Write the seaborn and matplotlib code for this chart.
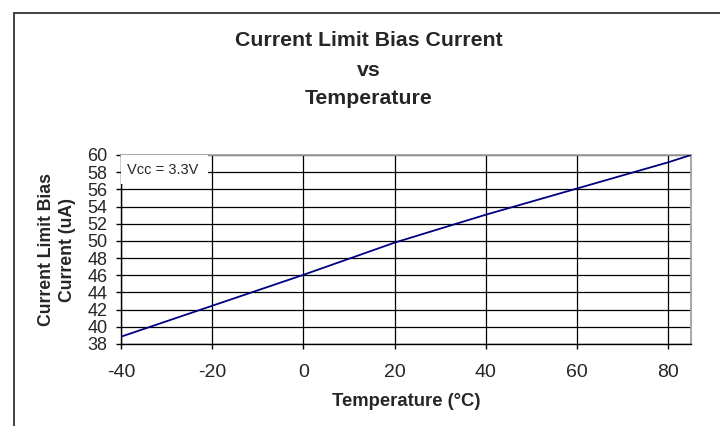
"""
Current limit bias current vs temperature, redrawn with seaborn.
"""

import matplotlib
matplotlib.use("Agg")
import matplotlib.pyplot as plt
from matplotlib.patches import Rectangle
import seaborn as sns

# values
temperature_c = [-40, -20, 0, 20, 40, 60, 80, 85]
bias_current_ua = [38.85, 42.45, 46.05, 49.8, 53.05, 56.1, 59.15, 60.0]
x_ticks = [-40, -20, 0, 20, 40, 60, 80]
y_ticks = list(range(38, 61, 2))
title_lines = ["Current Limit Bias Current", "vs", "Temperature"]
legend_label = "Vcc = 3.3V"

sns.set_style("white")
plt.rcParams['font.family'] = ['Liberation Sans', 'DejaVu Sans']
plt.rcParams['axes.unicode_minus'] = False

W, H = 720, 426
fig = plt.figure(figsize=(W / 100, H / 100), dpi=100)
ax = fig.add_axes([121 / W, 1 - 344 / H, 570 / W, 189 / H])

# outer chart frame (right and bottom edges run off the picture)
fig.patches.append(Rectangle((14 / W, -0.2), 1.2, 0.2 + (1 - 13 / H),
                             transform=fig.transFigure, fill=False,
                             edgecolor='#333333', linewidth=1.3))

# title, centred on the chart frame
for y_px, line in zip([41, 71, 98], title_lines):
    fig.text(369 / W, 1 - y_px / H, line, ha='center', va='center',
             fontsize=15.3, fontweight='bold')

sns.lineplot(x=temperature_c, y=bias_current_ua, color='#000080',
             linewidth=1.3, ax=ax, zorder=5)

ax.set_xlim(-40, 85)
ax.set_ylim(38, 60)
ax.set_xticks(x_ticks)
ax.set_yticks(y_ticks)
ax.tick_params(axis='x', direction='out', length=3.6, width=1, color='black',
               labelsize=14, pad=10.5)
ax.tick_params(axis='y', direction='out', length=3.6, width=1, color='black',
               labelsize=13, pad=6)
ax.tick_params(bottom=True, left=True)

ax.set_axisbelow(True)
ax.grid(True, color='black', linewidth=0.9)

for side in ['left', 'bottom']:
    ax.spines[side].set_color('black')
    ax.spines[side].set_linewidth(1)
for side in ['top', 'right']:
    ax.spines[side].set_color('#a0a0a0')
    ax.spines[side].set_linewidth(1.3)

ax.set_xlabel('Temperature (°C)', fontsize=13.3, fontweight='bold', va='center')
ax.xaxis.set_label_coords(0.5, -(401.7 - 344) / 189)
ax.set_ylabel('Current Limit Bias\nCurrent (uA)', fontsize=12.7,
              fontweight='bold', va='center', linespacing=1.3)
ax.yaxis.set_label_coords(-(121 - 57) / 570, 0.5)

# legend box without a line key, as in the reference
ax.add_patch(Rectangle((0, 0.845), 0.153, 0.155, transform=ax.transAxes,
                       facecolor='white', edgecolor='none', zorder=3))
ax.text(0.01, (344 - 170) / 189, legend_label, transform=ax.transAxes,
        ha='left', va='center', fontsize=10.5, zorder=4)

fig.savefig('out.png', dpi=100)
